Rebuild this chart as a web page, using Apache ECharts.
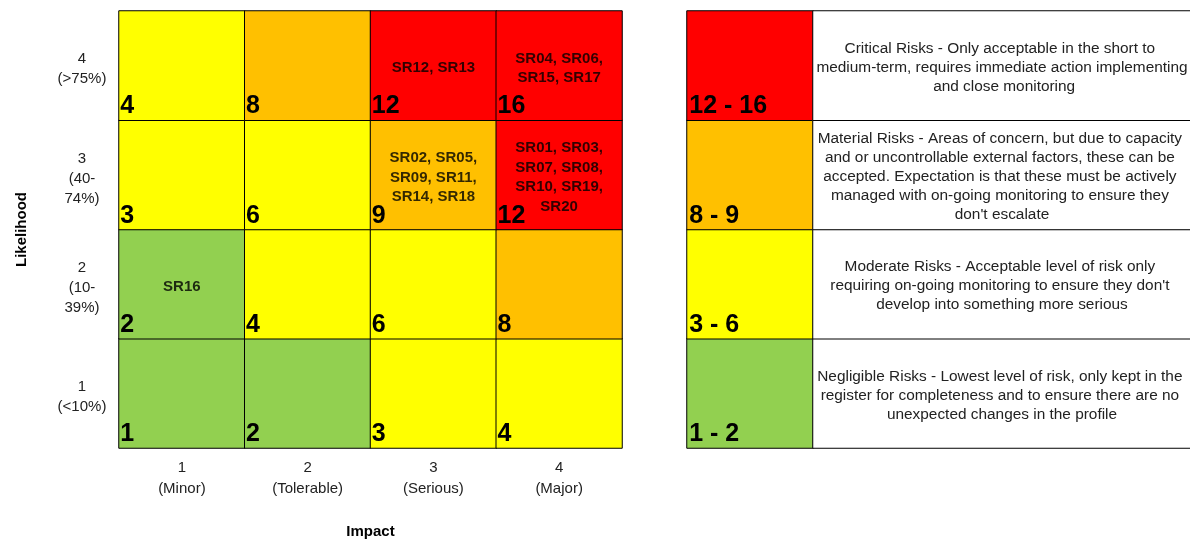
<!DOCTYPE html>
<html>
<head>
<meta charset="utf-8">
<script src="https://cdn.jsdelivr.net/npm/echarts@6/dist/echarts.min.js"></script>
<style>
html,body{margin:0;padding:0;background:#fff;}
#chart{width:1190px;height:539px;}
</style>
</head>
<body>
<div id="chart"></div>
<script>
// ---- data ----
const impactLabels = ['1\n(Minor)', '2\n(Tolerable)', '3\n(Serious)', '4\n(Major)'];
const likelihoodLabels = ['1\n(<10%)', '2\n(10-\n39%)', '3\n(40-\n74%)', '4\n(>75%)'];
// scores[likelihoodIndex][impactIndex], likelihood 1..4 bottom to top
const scores = [
  [1, 2, 3, 4],
  [2, 4, 6, 8],
  [3, 6, 9, 12],
  [4, 8, 12, 16]
];
// risks placed in cells: [impactIndex, likelihoodIndex, ids]
const riskCells = [
  [0, 1, ['SR16']],
  [2, 2, ['SR02', 'SR05', 'SR09', 'SR11', 'SR14', 'SR18']],
  [3, 2, ['SR01', 'SR03', 'SR07', 'SR08', 'SR10', 'SR19', 'SR20']],
  [2, 3, ['SR12', 'SR13']],
  [3, 3, ['SR04', 'SR06', 'SR15', 'SR17']]
];
const rangeLabels = ['1 - 2', '3 - 6', '8 - 9', '12 - 16'];
const rangeMin = [1, 3, 8, 12];
const rangeDescriptions = [
  'Negligible Risks - Lowest level of risk, only kept in the register for completeness and to ensure there are no unexpected changes in the profile',
  "Moderate Risks - Acceptable level of risk only requiring on-going monitoring to ensure they don't develop into something more serious",
  "Material Risks - Areas of concern, but due to capacity and or uncontrollable external factors, these can be accepted. Expectation is that these must be actively managed with on-going monitoring to ensure they don't escalate",
  'Critical Risks - Only acceptable in the short to medium-term, requires immediate action implementing and close monitoring'
];

// ---- build ----
const FONT = 'Liberation Sans, Arial, sans-serif';
const heatData = [];
scores.forEach((row, y) => row.forEach((v, x) => heatData.push([x, y, v])));
const srData = riskCells.map(c => {
  const ids = c[2];
  const lines = [];
  for (let i = 0; i < ids.length; i += 2) {
    lines.push(ids.slice(i, i + 2).join(', ') + (i + 2 < ids.length ? ',' : ''));
  }
  return { value: [c[0], c[1]], text: lines.join('\n') };
});
const rangeData = rangeMin.map((v, i) => [0, i, v]);
const descData = rangeDescriptions.map((d, i) => [0, i, 0]);

const chart = echarts.init(document.getElementById('chart'), null, { renderer: 'canvas' });
chart.setOption({
  animation: false,
  backgroundColor: '#fff',
  textStyle: { fontFamily: FONT },
  grid: [
    { left: 119, top: 11, width: 503, height: 437, outerBoundsMode: 'none', containLabel: false },
    { left: 687, top: 11, width: 126, height: 437, outerBoundsMode: 'none', containLabel: false },
    { left: 813, top: 11, width: 378, height: 437, outerBoundsMode: 'none', containLabel: false }
  ],
  xAxis: [
    {
      type: 'category', gridIndex: 0, data: impactLabels,
      axisLine: { show: false }, axisTick: { show: false }, splitLine: { show: false },
      axisLabel: { color: '#222', fontSize: 15, lineHeight: 21, margin: 9, fontFamily: FONT },
      name: 'Impact', nameLocation: 'middle', nameGap: 76,
      nameTextStyle: { fontWeight: 'bold', fontSize: 15, color: '#000', fontFamily: FONT }
    },
    { type: 'category', gridIndex: 1, data: ['r'], show: false },
    { type: 'category', gridIndex: 2, data: ['d'], show: false }
  ],
  yAxis: [
    {
      type: 'category', gridIndex: 0, data: likelihoodLabels,
      axisLine: { show: false }, axisTick: { show: false }, splitLine: { show: false },
      axisLabel: {
        color: '#222', fontSize: 15, margin: 37, align: 'center', fontFamily: FONT,
        formatter: v => '{s| }\n' + v.split('\n').map(l => '{t|' + l + '}').join('\n'),
        rich: {
          s: { fontSize: 2, lineHeight: 7, fontFamily: FONT },
          t: { fontSize: 15, lineHeight: 20, color: '#222', fontFamily: FONT, align: 'center' }
        }
      },
      name: 'Likelihood', nameLocation: 'middle', nameGap: 90,
      nameTextStyle: { fontWeight: 'bold', fontSize: 15, color: '#000', fontFamily: FONT }
    },
    { type: 'category', gridIndex: 1, data: rangeLabels, show: false },
    { type: 'category', gridIndex: 2, data: rangeLabels, show: false }
  ],
  visualMap: [
    {
      type: 'piecewise', show: false, dimension: 2, seriesIndex: [0, 2],
      pieces: [
        { min: 1, max: 2, color: '#92D050' },
        { min: 3, max: 6, color: '#FFFF00' },
        { min: 8, max: 9, color: '#FFC000' },
        { min: 12, max: 16, color: '#FF0000' }
      ]
    },
    {
      type: 'continuous', show: false, dimension: 2, seriesIndex: [3],
      min: 0, max: 1, inRange: { color: ['#ffffff', '#ffffff'] }
    }
  ],
  series: [
    {
      type: 'heatmap', xAxisIndex: 0, yAxisIndex: 0, data: heatData,
      itemStyle: { borderColor: '#000', borderWidth: 1 },
      label: {
        show: true, position: 'insideBottomLeft', distance: 2,
        formatter: p => String(p.value[2]),
        fontSize: 25, fontWeight: 'bold', color: '#000', fontFamily: FONT
      },
      emphasis: { disabled: true }
    },
    {
      type: 'scatter', xAxisIndex: 0, yAxisIndex: 0, data: srData,
      symbolSize: 1, itemStyle: { color: 'rgba(0,0,0,0)' },
      label: {
        show: true, position: 'inside', formatter: p => p.data.text, offset: [0, 2.5],
        fontSize: 15, fontWeight: 'bold', color: '#000', lineHeight: 19.5,
        align: 'center', verticalAlign: 'middle', fontFamily: FONT
      },
      silent: true, z: 5
    },
    {
      type: 'heatmap', xAxisIndex: 1, yAxisIndex: 1, data: rangeData,
      itemStyle: { borderColor: '#000', borderWidth: 1 },
      label: {
        show: true, position: 'insideBottomLeft', distance: 2, offset: [1, 0],
        formatter: p => rangeLabels[p.value[1]],
        fontSize: 25, fontWeight: 'bold', color: '#000', fontFamily: FONT
      },
      emphasis: { disabled: true }
    },
    {
      type: 'heatmap', xAxisIndex: 2, yAxisIndex: 2, data: descData,
      itemStyle: { borderColor: '#000', borderWidth: 1 },
      label: {
        show: true, position: 'inside', offset: [0, 2],
        formatter: p => rangeDescriptions[p.value[1]],
        width: 374, overflow: 'break', align: 'center',
        fontSize: 15.4, lineHeight: 19, color: '#222', fontFamily: FONT
      },
      emphasis: { disabled: true }
    }
  ]
});
</script>
</body>
</html>
